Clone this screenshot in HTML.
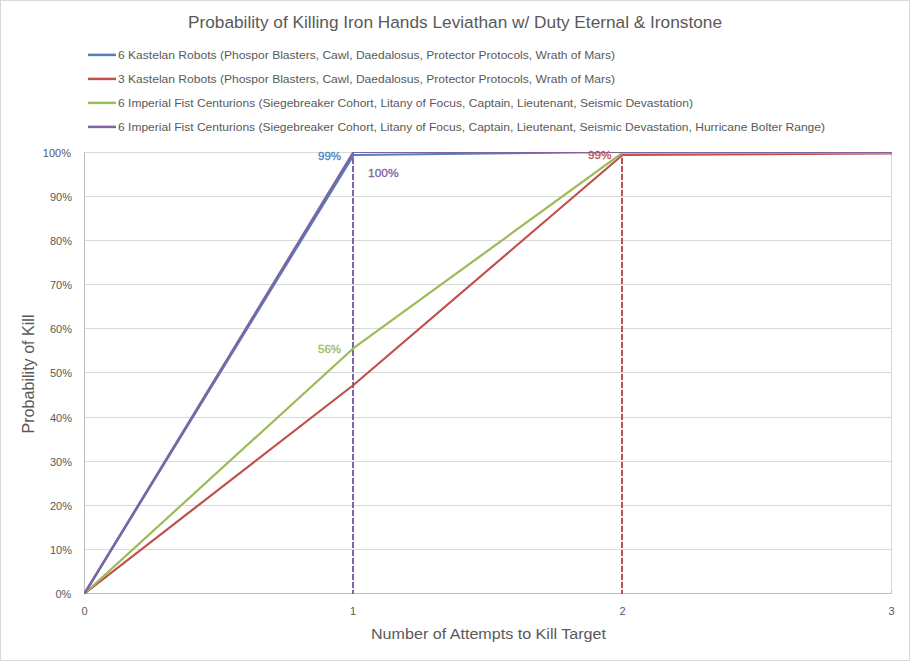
<!DOCTYPE html>
<html><head><meta charset="utf-8">
<style>
html,body{margin:0;padding:0;background:#fff;}
body{width:910px;height:661px;overflow:hidden;position:relative;}
svg{position:absolute;left:0;top:0;}
text{font-family:"Liberation Sans",sans-serif;fill:#595959;}
</style></head><body>
<svg width="910" height="661" viewBox="0 0 910 661">
<rect x="0.5" y="0.5" width="909" height="660" fill="#fff" stroke="#d9d9d9" stroke-width="1"/>
<!-- title -->
<text x="188" y="27.7" font-size="17.4" textLength="534" lengthAdjust="spacingAndGlyphs">Probability of Killing Iron Hands Leviathan w/ Duty Eternal &amp; Ironstone</text>
<!-- legend -->
<g stroke-width="2.5">
<line x1="88" y1="54.9" x2="116" y2="54.9" stroke="#4F81BD"/>
<line x1="88" y1="78.9" x2="116" y2="78.9" stroke="#C0504D"/>
<line x1="88" y1="102.9" x2="116" y2="102.9" stroke="#9BBB59"/>
<line x1="88" y1="126.9" x2="116" y2="126.9" stroke="#8064A2"/>
</g>
<g font-size="11">
<text x="118" y="58.5" textLength="497" lengthAdjust="spacingAndGlyphs">6 Kastelan Robots (Phospor Blasters, Cawl, Daedalosus, Protector Protocols, Wrath of Mars)</text>
<text x="118" y="82.5" textLength="497" lengthAdjust="spacingAndGlyphs">3 Kastelan Robots (Phospor Blasters, Cawl, Daedalosus, Protector Protocols, Wrath of Mars)</text>
<text x="118" y="106.5" textLength="575" lengthAdjust="spacingAndGlyphs">6 Imperial Fist Centurions (Siegebreaker Cohort, Litany of Focus, Captain, Lieutenant, Seismic Devastation)</text>
<text x="118" y="130.5" textLength="707" lengthAdjust="spacingAndGlyphs">6 Imperial Fist Centurions (Siegebreaker Cohort, Litany of Focus, Captain, Lieutenant, Seismic Devastation, Hurricane Bolter Range)</text>
</g>
<!-- gridlines -->
<g stroke="#d9d9d9" stroke-width="1" shape-rendering="crispEdges">
<line x1="84" y1="152.5" x2="892" y2="152.5"/>
<line x1="84" y1="196.5" x2="892" y2="196.5"/>
<line x1="84" y1="240.5" x2="892" y2="240.5"/>
<line x1="84" y1="284.5" x2="892" y2="284.5"/>
<line x1="84" y1="328.5" x2="892" y2="328.5"/>
<line x1="84" y1="372.5" x2="892" y2="372.5"/>
<line x1="84" y1="417.5" x2="892" y2="417.5"/>
<line x1="84" y1="461.5" x2="892" y2="461.5"/>
<line x1="84" y1="505.5" x2="892" y2="505.5"/>
<line x1="84" y1="549.5" x2="892" y2="549.5"/>
<line x1="891.5" y1="152" x2="891.5" y2="593"/>
<line x1="353.5" y1="152" x2="353.5" y2="593"/>
<line x1="622.5" y1="152" x2="622.5" y2="593"/>
</g>
<g stroke="#bfbfbf" stroke-width="1" shape-rendering="crispEdges">
<line x1="84.5" y1="152" x2="84.5" y2="594"/>
<line x1="84" y1="593.5" x2="892" y2="593.5"/>
<line x1="891.5" y1="590" x2="891.5" y2="593"/>
<line x1="353.5" y1="590" x2="353.5" y2="593"/>
<line x1="622.5" y1="590" x2="622.5" y2="593"/>
</g>
<!-- y labels -->
<g font-size="11" text-anchor="end">
<text x="71" y="156.8">100%</text>
<text x="72" y="200.8">90%</text>
<text x="72" y="244.8">80%</text>
<text x="72" y="288.8">70%</text>
<text x="72" y="332.8">60%</text>
<text x="72" y="376.8">50%</text>
<text x="72" y="421.8">40%</text>
<text x="72" y="465.8">30%</text>
<text x="72" y="509.8">20%</text>
<text x="72" y="553.8">10%</text>
<text x="71.3" y="597.8">0%</text>
</g>
<!-- x labels -->
<g font-size="11" text-anchor="middle">
<text x="84.5" y="615">0</text>
<text x="353" y="615">1</text>
<text x="622.5" y="615">2</text>
<text x="891.5" y="615">3</text>
</g>
<!-- axis titles -->
<text x="371" y="638.7" font-size="15.3" textLength="235" lengthAdjust="spacingAndGlyphs">Number of Attempts to Kill Target</text>
<text transform="translate(34.2,433.5) rotate(-90)" x="0" y="0" font-size="15.6" textLength="119" lengthAdjust="spacingAndGlyphs">Probability of Kill</text>
<!-- dashed verticals -->
<defs><clipPath id="pa"><rect x="84" y="152" width="808" height="442"/></clipPath></defs>
<g clip-path="url(#pa)">
<line x1="353" y1="150" x2="353" y2="598" stroke="#8064A2" stroke-width="2" stroke-dasharray="6 2"/>
<line x1="622" y1="150" x2="622" y2="598" stroke="#C0504D" stroke-width="2" stroke-dasharray="6 2"/>
<g fill="none" stroke-linejoin="round" stroke-linecap="round">
<polyline points="84.5,593.5 353.5,385 622.5,155" stroke="#C0504D" stroke-width="2.2"/>
<polyline points="622.5,155 891.5,153.5" stroke="#C0504D" stroke-width="2"/>
<polyline points="84.5,593.5 353.5,348.2 622.5,152.8" stroke="#9BBB59" stroke-width="2.2"/>
<polyline points="622.5,152.8 891.5,152.8" stroke="#9BBB59" stroke-width="2"/>
<polyline points="84.5,593.5 353.5,155" stroke="#4F81BD" stroke-width="2.4"/>
<polyline points="353.5,155 622.5,152 891.5,152" stroke="#4F81BD" stroke-width="2"/>
<polyline points="84.5,593.5 353.5,152" stroke="#8064A2" stroke-width="2.4"/>
<polyline points="353.5,152 891.5,152" stroke="#8064A2" stroke-width="2"/>
</g>
</g>
<!-- data labels -->
<g font-size="11">
<text x="318" y="159.6" textLength="23" lengthAdjust="spacingAndGlyphs" style="fill:#4F81BD;stroke:#4F81BD;stroke-width:0.3px">99%</text>
<text x="368" y="177" textLength="30.5" lengthAdjust="spacingAndGlyphs" style="fill:#8064A2;stroke:#8064A2;stroke-width:0.3px">100%</text>
<text x="318" y="353" textLength="23" lengthAdjust="spacingAndGlyphs" style="fill:#9BBB59;stroke:#9BBB59;stroke-width:0.3px">56%</text>
<text x="588" y="158.6" textLength="23.5" lengthAdjust="spacingAndGlyphs" style="fill:#C0504D;stroke:#C0504D;stroke-width:0.3px">99%</text>
</g>
</svg>
</body></html>
